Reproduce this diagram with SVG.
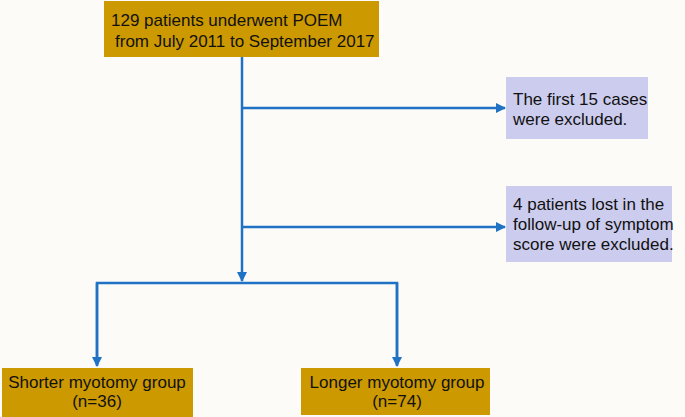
<svg xmlns="http://www.w3.org/2000/svg" width="685" height="417" viewBox="0 0 685 417">
<defs>
<marker id="ah" viewBox="0 0 10 10" refX="9" refY="5" markerWidth="4" markerHeight="4" orient="auto" markerUnits="strokeWidth">
<path d="M0,0 L10,5 L0,10 z" fill="#1f72c4"/>
</marker>
<style>
.gold{fill:#cc9900}
.lav{fill:#ccccee}
text{font-family:"Liberation Sans",Arial,sans-serif;font-size:17px;fill:#111}
.c{stroke:#1f72c4;stroke-width:2.5;fill:none}
.a{marker-end:url(#ah)}
</style>
</defs>
<rect width="685" height="417" fill="#fcfbf8"/>
<g id="connectors">
<path class="c" d="M242,57 V281" marker-end="url(#ah)"/>
<path class="c" d="M242,108 H505" marker-end="url(#ah)"/>
<path class="c" d="M242,227 H505" marker-end="url(#ah)"/>
<path class="c" d="M97,365 V283 H397 V365"/>
<path class="c" d="M97,283 V366" marker-end="url(#ah)"/>
<path class="c" d="M397,283 V366" marker-end="url(#ah)"/>
</g>
<g id="start">
<rect class="gold" x="104" y="1" width="275" height="56"/>
<text x="111" y="26">129 patients underwent POEM</text>
<text x="115" y="47">from July 2011 to September 2017</text>
</g>
<g id="excl1">
<rect class="lav" x="506" y="77" width="142" height="62"/>
<text x="513" y="105">The first 15 cases</text>
<text x="513" y="125">were excluded.</text>
</g>
<g id="excl2">
<rect class="lav" x="506" y="186" width="166" height="76"/>
<text x="513" y="210">4 patients lost in the</text>
<text x="513" y="230">follow-up of symptom</text>
<text x="513" y="250">score were excluded.</text>
</g>
<g id="shorter">
<rect class="gold" x="2" y="368" width="191" height="49"/>
<text x="97" y="388" text-anchor="middle">Shorter myotomy group</text>
<text x="97" y="407" text-anchor="middle">(n=36)</text>
</g>
<g id="longer">
<rect class="gold" x="301" y="368" width="189" height="47"/>
<text x="397" y="388" text-anchor="middle">Longer myotomy group</text>
<text x="397" y="407" text-anchor="middle">(n=74)</text>
</g>
</svg>
